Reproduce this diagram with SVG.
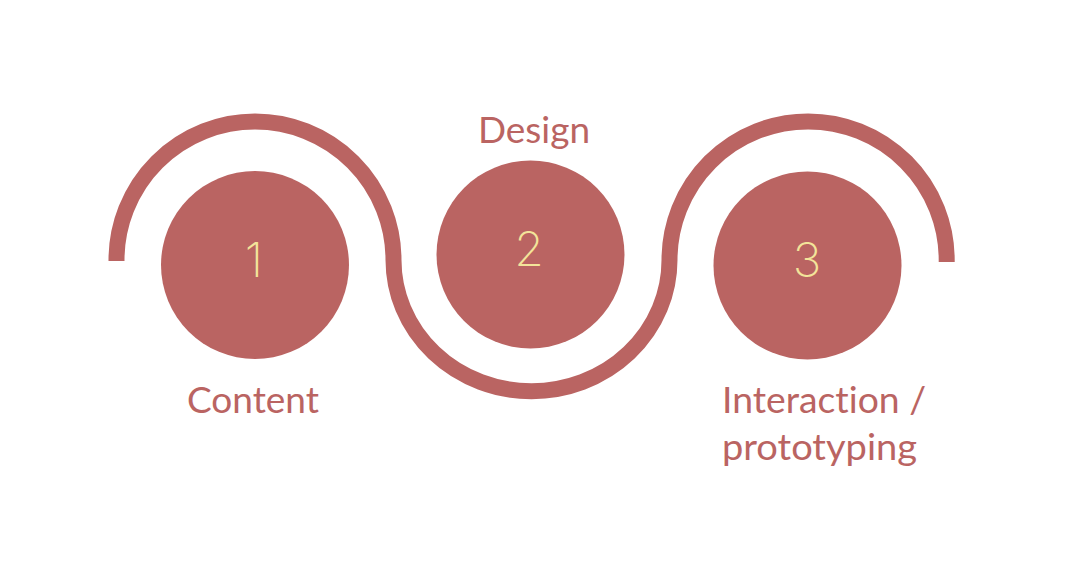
<svg xmlns="http://www.w3.org/2000/svg" width="1080" height="580" viewBox="0 0 1080 580">
  <style>
    .wave { fill: none; stroke: #BA6462; stroke-width: 16; stroke-linecap: butt; stroke-linejoin: round; }
    .disc { fill: #BA6462; }
    .num { font-family: Inter, "Open Sans", "Liberation Sans", sans-serif; font-weight: 200; font-size: 48px; fill: #F3E49A; text-anchor: middle; }
    .label { font-family: Lato, "Open Sans", "Liberation Sans", sans-serif; font-weight: 400; font-size: 36px; fill: #BA6462; font-variant-ligatures: none; }
  </style>
  <rect width="1080" height="580" fill="#FFFFFF"/>

  <!-- the wave that threads the three steps -->
  <g id="connectors">
    <path class="wave" d="M116.5,261 L116.5,260 A138.2,138.2 0 0 1 393.5,260 A137.8,131 0 0 0 669.5,260 A138.6,138.6 0 0 1 946.7,260 L946.7,262"/>
  </g>

  <g id="step-1">
    <circle class="disc" cx="255" cy="265" r="94"/>
    <text class="num" x="254" y="277">1</text>
    <text class="label" x="253" y="413" text-anchor="middle" textLength="132" lengthAdjust="spacingAndGlyphs">Content</text>
  </g>

  <g id="step-2">
    <circle class="disc" cx="530.5" cy="254.5" r="94"/>
    <text class="num" x="529" y="266">2</text>
    <text class="label" x="534" y="143" text-anchor="middle" textLength="112" lengthAdjust="spacingAndGlyphs">Design</text>
  </g>

  <g id="step-3">
    <circle class="disc" cx="807.5" cy="265.5" r="94"/>
    <text class="num" x="807" y="277">3</text>
    <text class="label" x="722" y="413" textLength="204" lengthAdjust="spacingAndGlyphs">Interaction /</text>
    <text class="label" x="722" y="460" textLength="195" lengthAdjust="spacingAndGlyphs">prototyping</text>
  </g>
</svg>
